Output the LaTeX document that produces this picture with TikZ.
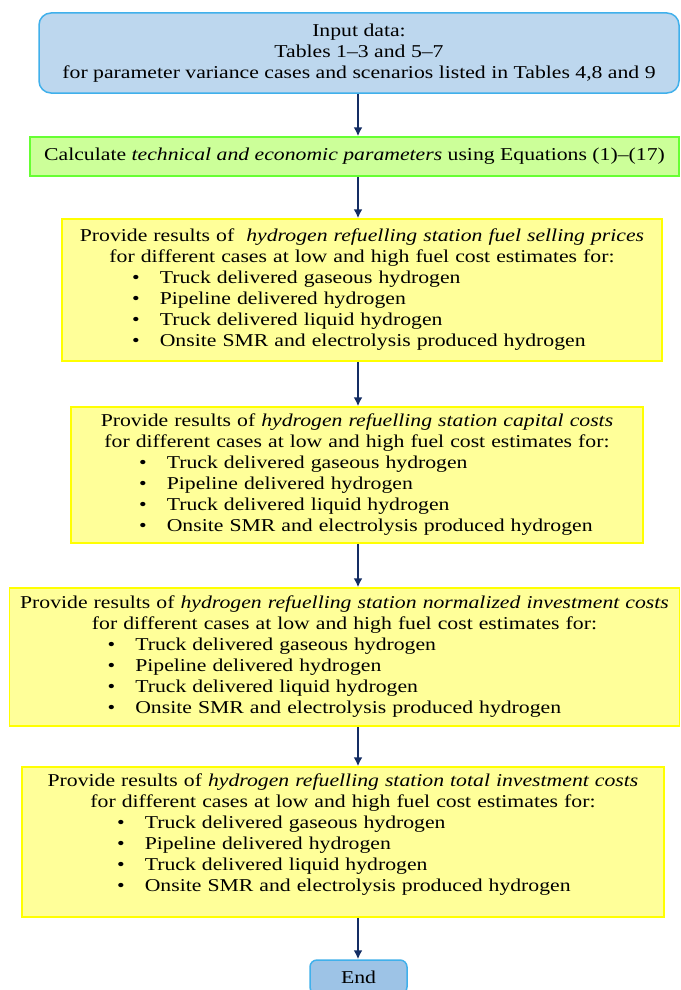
\documentclass[tikz,border=0pt]{standalone}
\usepackage{fontspec}
\setmainfont{Liberation Serif}[FakeStretch=1.2]
\usetikzlibrary{arrows.meta}

\definecolor{inputfill}{RGB}{189,215,238}
\definecolor{inputline}{RGB}{64,176,235}
\definecolor{endfill}{RGB}{157,195,230}
\definecolor{calcfill}{RGB}{204,255,153}
\definecolor{calcline}{RGB}{102,255,51}
\definecolor{resfill}{RGB}{255,255,153}
\definecolor{resline}{RGB}{255,255,0}
\definecolor{arrowblue}{RGB}{20,45,100}

% bullet item and the list that every result box repeats
\newcommand{\itm}{\makebox[27.8pt][l]{\textbullet}}
\newcommand{\fuellist}[2][]{\par\leftskip=#2\relax
  \itm Truck delivered gaseous hydrogen\par
  \itm Pipeline delivered hydrogen\par
  \itm Truck delivered liquid hydrogen\par
  \itm Onsite SMR and electrolysis produced hydrogen#1\par}
\newcommand{\reshead}[1]{\makebox[\linewidth]{Provide results of #1}\par
  \makebox[\linewidth]{for different cases at low and high fuel cost estimates for:}}

\begin{document}
\begin{tikzpicture}[x=1pt,y=-1pt,
    every node/.style={font=\fontsize{18.1}{21}\selectfont, inner sep=0pt},
    startbox/.style={draw=inputline, fill=inputfill, line width=1.5pt, rounded corners=12pt, align=center},
    endbox/.style={draw=inputline, fill=endfill, line width=1.5pt, rounded corners=7pt},
    calcbox/.style={draw=calcline, fill=calcfill, line width=1.5pt, align=center},
    resbox/.style={draw=resline, fill=resfill, line width=1.5pt, align=left, text width=#1},
    flow/.style={draw=arrowblue, line width=2.2pt, -{Latex[length=9pt,width=9pt]}}]
    \path[use as bounding box, fill=white] (0,0) rectangle (680,990);

    \node[startbox, minimum width=640, minimum height=80] (input) at (359,53)
        {Input data:\\Tables 1--3 and 5--7\\for parameter variance cases and scenarios listed in Tables 4,8 and 9};
    \node[calcbox, minimum width=649, minimum height=39] (calc) at (354.5,156.5)
        {Calculate \textit{technical and economic parameters} using Equations (1)--(17)};

    \node[resbox=600, minimum height=142] (prices) at (362,290)
        {\reshead{\ \textit{hydrogen refuelling station fuel selling prices}}\fuellist{70pt}};
    \node[resbox=572, minimum height=136] (capital) at (357,475)
        {\reshead{\textit{hydrogen refuelling station capital costs}}\fuellist{68pt}};
    \node[resbox=670, minimum height=138] (normalized) at (344.5,657)
        {\reshead{\textit{hydrogen refuelling station normalized investment costs}}\fuellist{98pt}};
    \node[resbox=642, minimum height=150] (total) at (343,842)
        {\reshead{\textit{hydrogen refuelling station total investment costs}}\fuellist[{\rule[-19pt]{0pt}{0pt}}]{95pt}};

    \node[endbox, minimum width=97, minimum height=34] (stop) at (358.5,977) {End};

    % arrows run down one line, not through the box centres
    \coordinate (spine) at (358,0);
    \draw[flow] (input.south -| spine) -- (calc.north -| spine);
    \draw[flow] (calc.south -| spine) -- (prices.north -| spine);
    \draw[flow] (prices.south -| spine) -- (capital.north -| spine);
    \draw[flow] (capital.south -| spine) -- (normalized.north -| spine);
    \draw[flow] (normalized.south -| spine) -- (total.north -| spine);
    \draw[flow] (total.south -| spine) -- (stop.north -| spine);
\end{tikzpicture}
\end{document}
